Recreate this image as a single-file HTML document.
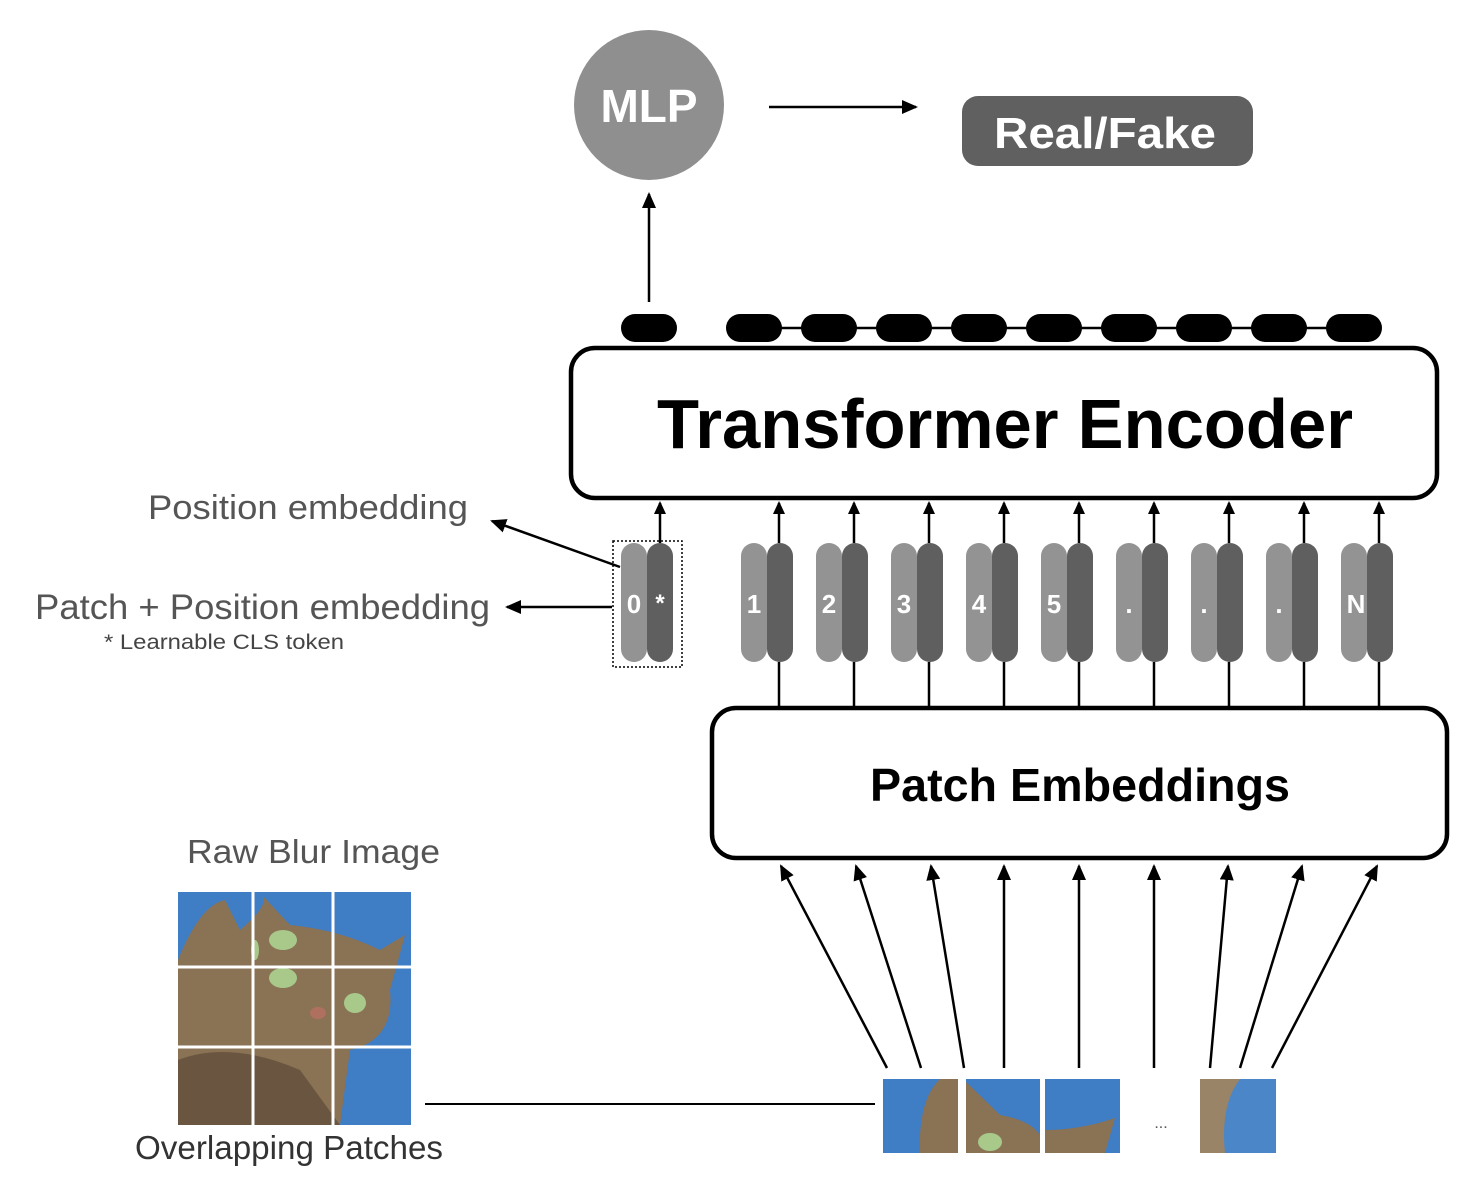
<!DOCTYPE html>
<html><head><meta charset="utf-8"><style>
html,body{margin:0;padding:0;background:#fff;}
svg{display:block;font-family:"Liberation Sans",Arial,sans-serif;}
</style></head><body>
<svg width="1474" height="1194" viewBox="0 0 1474 1194" xmlns="http://www.w3.org/2000/svg">
<defs>
<marker id="ah" markerWidth="13" markerHeight="12" refX="11" refY="6" orient="auto" markerUnits="userSpaceOnUse">
<path d="M0,0 L13,6 L0,12 Z" fill="#000"/></marker>
<marker id="ahs" markerWidth="16" markerHeight="14" refX="14" refY="7" orient="auto" markerUnits="userSpaceOnUse">
<path d="M0,0 L16,7 L0,14 Z" fill="#000"/></marker>
<clipPath id="cat"><rect x="178" y="892" width="233" height="233"/></clipPath>
</defs>

<circle cx="649" cy="105" r="75" fill="#8f8f8f"/>
<text x="649" y="122" text-anchor="middle" font-size="46" font-weight="bold" fill="#fff">MLP</text>
<line x1="769" y1="107" x2="916" y2="107" stroke="#000" stroke-width="2.5" marker-end="url(#ahs)"/>
<rect x="962" y="96" width="291" height="70" rx="16" fill="#606060"/>
<text x="1105" y="148" text-anchor="middle" font-size="44" font-weight="bold" fill="#fff" textLength="222" lengthAdjust="spacingAndGlyphs">Real/Fake</text>
<line x1="649" y1="302" x2="649" y2="194" stroke="#000" stroke-width="2.5" marker-end="url(#ahs)"/>

<line x1="754" y1="328" x2="1354" y2="328" stroke="#000" stroke-width="2.5"/>
<rect x="621" y="314" width="56" height="28" rx="14" fill="#000"/>
<g fill="#000">
<rect x="726" y="314" width="56" height="28" rx="14"/>
<rect x="801" y="314" width="56" height="28" rx="14"/>
<rect x="876" y="314" width="56" height="28" rx="14"/>
<rect x="951" y="314" width="56" height="28" rx="14"/>
<rect x="1026" y="314" width="56" height="28" rx="14"/>
<rect x="1101" y="314" width="56" height="28" rx="14"/>
<rect x="1176" y="314" width="56" height="28" rx="14"/>
<rect x="1251" y="314" width="56" height="28" rx="14"/>
<rect x="1326" y="314" width="56" height="28" rx="14"/>
</g>

<rect x="571" y="348" width="866" height="150" rx="24" fill="#fff" stroke="#000" stroke-width="4.5"/>
<text x="1005" y="448" text-anchor="middle" font-size="70" font-weight="bold" fill="#000" textLength="696" lengthAdjust="spacingAndGlyphs">Transformer Encoder</text>

<rect x="712" y="708" width="735" height="150" rx="24" fill="#fff" stroke="#000" stroke-width="4.5"/>
<text x="1080" y="801" text-anchor="middle" font-size="46" font-weight="bold" fill="#000" textLength="420" lengthAdjust="spacingAndGlyphs">Patch Embeddings</text>

<rect x="613" y="541" width="69" height="126" fill="none" stroke="#000" stroke-width="1.5" stroke-dasharray="2,2"/>
<rect x="621" y="543" width="26" height="119" rx="13" fill="#939393"/>
<rect x="647" y="543" width="26" height="119" rx="13" fill="#5f5f5f"/>
<text x="634" y="613" text-anchor="middle" font-size="26" font-weight="bold" fill="#fff">0</text>
<text x="660" y="611" text-anchor="middle" font-size="24" font-weight="bold" fill="#fff">*</text>
<line x1="660" y1="543" x2="660" y2="503" stroke="#000" stroke-width="2.5" marker-end="url(#ah)"/>

<text x="148" y="519" font-size="34" fill="#555" textLength="320" lengthAdjust="spacingAndGlyphs">Position embedding</text>
<line x1="620" y1="567" x2="492" y2="521" stroke="#000" stroke-width="2.5" marker-end="url(#ahs)"/>
<text x="35" y="619" font-size="35" fill="#555" textLength="455" lengthAdjust="spacingAndGlyphs">Patch + Position embedding</text>
<line x1="612" y1="607" x2="507" y2="607" stroke="#000" stroke-width="2.5" marker-end="url(#ahs)"/>
<text x="104" y="649" font-size="21" fill="#444" textLength="240" lengthAdjust="spacingAndGlyphs">* Learnable CLS token</text>

<text x="187" y="863" font-size="33" fill="#555" textLength="253" lengthAdjust="spacingAndGlyphs">Raw Blur Image</text>
<text x="135" y="1159" font-size="33" fill="#333" textLength="308" lengthAdjust="spacingAndGlyphs">Overlapping Patches</text>

<g clip-path="url(#cat)">
<rect x="178" y="892" width="233" height="233" fill="#3f7dc4"/>
<path d="M178,1125 L178,960 Q200,905 225,900 L240,930 Q270,905 262,895 L290,925 Q340,930 380,950 L405,935 L390,990 Q395,1040 350,1050 L340,1125 Z" fill="#8a7255"/>
<path d="M178,1125 L178,1060 Q230,1040 300,1070 L340,1125 Z" fill="#6a5540"/>
<ellipse cx="283" cy="940" rx="14" ry="10" fill="#a8c98a"/>
<ellipse cx="283" cy="978" rx="14" ry="10" fill="#a8c98a"/>
<ellipse cx="355" cy="1003" rx="11" ry="10" fill="#a8c98a"/>
<ellipse cx="255" cy="950" rx="4" ry="10" fill="#a8c98a"/>
<ellipse cx="318" cy="1013" rx="8" ry="6" fill="#b07060"/>
</g>
<g stroke="#fff" stroke-width="3">
<line x1="253" y1="892" x2="253" y2="1125"/><line x1="333" y1="892" x2="333" y2="1125"/>
<line x1="178" y1="967" x2="411" y2="967"/><line x1="178" y1="1047" x2="411" y2="1047"/>
</g>
<line x1="425" y1="1104" x2="875" y2="1104" stroke="#000" stroke-width="2"/>

<rect x="883" y="1079" width="75" height="74" fill="#3f7dc4"/>
<path d="M920,1153 Q918,1100 940,1079 L958,1079 L958,1153 Z" fill="#8a7255"/>
<rect x="966" y="1079" width="74" height="74" fill="#3f7dc4"/>
<path d="M966,1153 L966,1082 Q985,1100 1000,1115 Q1030,1120 1040,1135 L1040,1153 Z" fill="#8a7255"/>
<ellipse cx="990" cy="1142" rx="12" ry="9" fill="#a8c98a"/>
<rect x="1045" y="1079" width="75" height="74" fill="#3f7dc4"/>
<path d="M1045,1153 L1045,1130 Q1080,1130 1115,1118 L1105,1153 Z" fill="#8a7255"/>
<text x="1161" y="1128" text-anchor="middle" font-size="16" fill="#555">...</text>
<rect x="1200" y="1079" width="76" height="74" fill="#4a86c8"/>
<path d="M1200,1153 L1200,1079 L1240,1079 Q1220,1105 1225,1153 Z" fill="#9a8468"/>

<g stroke="#000" stroke-width="2.5" fill="none" marker-end="url(#ahs)">
<line x1="887" y1="1068" x2="781" y2="866"/>
<line x1="921" y1="1068" x2="856" y2="866"/>
<line x1="964" y1="1068" x2="931" y2="866"/>
<line x1="1004" y1="1068" x2="1004" y2="866"/>
<line x1="1079" y1="1068" x2="1079" y2="866"/>
<line x1="1154" y1="1068" x2="1154" y2="866"/>
<line x1="1210" y1="1068" x2="1228" y2="866"/>
<line x1="1240" y1="1068" x2="1302" y2="866"/>
<line x1="1272" y1="1068" x2="1377" y2="866"/>
</g>

<g>
<g transform="translate(0,0)">
<line x1="779" y1="708" x2="779" y2="662" stroke="#000" stroke-width="2.5"/><line x1="779" y1="543" x2="779" y2="503" stroke="#000" stroke-width="2.5" marker-end="url(#ah)"/>
<rect x="741" y="543" width="26" height="119" rx="13" fill="#939393"/><rect x="767" y="543" width="26" height="119" rx="13" fill="#5f5f5f"/>
<text x="754" y="613" text-anchor="middle" font-size="26" font-weight="bold" fill="#fff">1</text>
</g>
<g transform="translate(75,0)">
<line x1="779" y1="708" x2="779" y2="662" stroke="#000" stroke-width="2.5"/><line x1="779" y1="543" x2="779" y2="503" stroke="#000" stroke-width="2.5" marker-end="url(#ah)"/>
<rect x="741" y="543" width="26" height="119" rx="13" fill="#939393"/><rect x="767" y="543" width="26" height="119" rx="13" fill="#5f5f5f"/>
<text x="754" y="613" text-anchor="middle" font-size="26" font-weight="bold" fill="#fff">2</text>
</g>
<g transform="translate(150,0)">
<line x1="779" y1="708" x2="779" y2="662" stroke="#000" stroke-width="2.5"/><line x1="779" y1="543" x2="779" y2="503" stroke="#000" stroke-width="2.5" marker-end="url(#ah)"/>
<rect x="741" y="543" width="26" height="119" rx="13" fill="#939393"/><rect x="767" y="543" width="26" height="119" rx="13" fill="#5f5f5f"/>
<text x="754" y="613" text-anchor="middle" font-size="26" font-weight="bold" fill="#fff">3</text>
</g>
<g transform="translate(225,0)">
<line x1="779" y1="708" x2="779" y2="662" stroke="#000" stroke-width="2.5"/><line x1="779" y1="543" x2="779" y2="503" stroke="#000" stroke-width="2.5" marker-end="url(#ah)"/>
<rect x="741" y="543" width="26" height="119" rx="13" fill="#939393"/><rect x="767" y="543" width="26" height="119" rx="13" fill="#5f5f5f"/>
<text x="754" y="613" text-anchor="middle" font-size="26" font-weight="bold" fill="#fff">4</text>
</g>
<g transform="translate(300,0)">
<line x1="779" y1="708" x2="779" y2="662" stroke="#000" stroke-width="2.5"/><line x1="779" y1="543" x2="779" y2="503" stroke="#000" stroke-width="2.5" marker-end="url(#ah)"/>
<rect x="741" y="543" width="26" height="119" rx="13" fill="#939393"/><rect x="767" y="543" width="26" height="119" rx="13" fill="#5f5f5f"/>
<text x="754" y="613" text-anchor="middle" font-size="26" font-weight="bold" fill="#fff">5</text>
</g>
<g transform="translate(375,0)">
<line x1="779" y1="708" x2="779" y2="662" stroke="#000" stroke-width="2.5"/><line x1="779" y1="543" x2="779" y2="503" stroke="#000" stroke-width="2.5" marker-end="url(#ah)"/>
<rect x="741" y="543" width="26" height="119" rx="13" fill="#939393"/><rect x="767" y="543" width="26" height="119" rx="13" fill="#5f5f5f"/>
<text x="754" y="613" text-anchor="middle" font-size="26" font-weight="bold" fill="#fff">.</text>
</g>
<g transform="translate(450,0)">
<line x1="779" y1="708" x2="779" y2="662" stroke="#000" stroke-width="2.5"/><line x1="779" y1="543" x2="779" y2="503" stroke="#000" stroke-width="2.5" marker-end="url(#ah)"/>
<rect x="741" y="543" width="26" height="119" rx="13" fill="#939393"/><rect x="767" y="543" width="26" height="119" rx="13" fill="#5f5f5f"/>
<text x="754" y="613" text-anchor="middle" font-size="26" font-weight="bold" fill="#fff">.</text>
</g>
<g transform="translate(525,0)">
<line x1="779" y1="708" x2="779" y2="662" stroke="#000" stroke-width="2.5"/><line x1="779" y1="543" x2="779" y2="503" stroke="#000" stroke-width="2.5" marker-end="url(#ah)"/>
<rect x="741" y="543" width="26" height="119" rx="13" fill="#939393"/><rect x="767" y="543" width="26" height="119" rx="13" fill="#5f5f5f"/>
<text x="754" y="613" text-anchor="middle" font-size="26" font-weight="bold" fill="#fff">.</text>
</g>
<g transform="translate(600,0)">
<line x1="779" y1="708" x2="779" y2="662" stroke="#000" stroke-width="2.5"/><line x1="779" y1="543" x2="779" y2="503" stroke="#000" stroke-width="2.5" marker-end="url(#ah)"/>
<rect x="741" y="543" width="26" height="119" rx="13" fill="#939393"/><rect x="767" y="543" width="26" height="119" rx="13" fill="#5f5f5f"/>
<text x="756" y="613" text-anchor="middle" font-size="26" font-weight="bold" fill="#fff">N</text>
</g>
</g>
</svg>
</body></html>
